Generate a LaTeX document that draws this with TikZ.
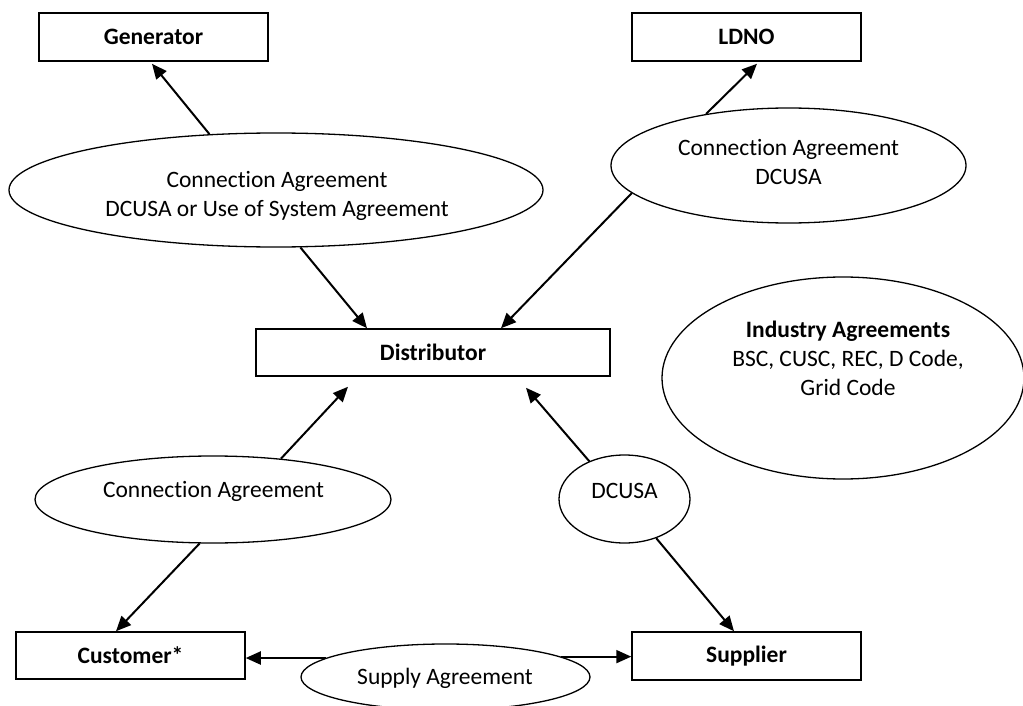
\documentclass[tikz,border=0pt]{standalone}
\usepackage{fontspec}
\setmainfont{Carlito}[Ligatures={NoCommon}]
\usetikzlibrary{arrows.meta,shapes.geometric,calc}
\begin{document}
\begin{tikzpicture}[x=1pt,y=-1pt,
  box/.style={draw,line width=1.5pt,minimum width=229pt,minimum height=48pt,inner sep=0pt,
    font=\fontsize{23.5}{29}\selectfont\bfseries},
  oval/.style={draw,ellipse,line width=1.3pt,inner sep=0pt},
  txt/.style={font=\fontsize{23.5}{29}\selectfont,align=center,inner sep=0pt},
  arr/.style={line width=2pt,-{Triangle[length=15pt,width=13pt]}}]
\useasboundingbox (0,0) rectangle (1023,706);
% boxes
\node[box] (gen) at (153.5,37) {Generator};
\node[box] (ldno) at (746.5,37) {LDNO};
\node[box,minimum width=354pt,minimum height=47pt] (dist) at (433,352.5) {Distributor};
\node[box,minimum height=47pt] (cust) at (130.5,655.5) {Customer*};
\node[box] (sup) at (746.5,656) {Supplier};
% ellipses
\node[oval,minimum width=534pt,minimum height=114pt] (e1) at (276,190) {};
\node[txt] (t1) at (277,196) {Connection Agreement\\DCUSA or Use of System Agreement};
\node[oval,minimum width=355pt,minimum height=115pt] (e2) at (788.5,165.5) {};
\node[txt] (t2) at (788.5,162) {Connection Agreement\\DCUSA};
\node[oval,minimum width=356pt,minimum height=87pt] (e3) at (213,499.5) {};
\node[txt] (t3) at (213.5,491) {Connection Agreement};
\node[oval,minimum width=131pt,minimum height=88pt] (e5) at (624.5,499) {};
\node[txt] (t5) at (624.5,491) {DCUSA};
\node[oval,minimum width=362pt,minimum height=202pt] (e4) at (843,378) {};
\node[txt] (t4) at (848,358) {\textbf{Industry Agreements}\\BSC, CUSC, REC, D Code,\\Grid Code};
\node[oval,minimum width=289pt,minimum height=66pt] (e6) at (445.5,677) {};
\node[txt] (t6) at (445,678) {Supply Agreement};
% connectors
\draw[arr] (e1.140) -- ($(gen.south)+(-1.5,2)$);
\draw[arr] (e1.-67) -- ($(dist.north)+(-66,0)$);
\draw[arr] (e2.148) -- ($(ldno.south)+(10.5,2)$);
\draw[arr] (e2.-170) -- ($(dist.north)+(68,0)$);
\draw[arr] (e3.31) -- ($(dist.south)+(-85,10)$);
\draw[arr] (e3.-107) -- ($(cust.north)+(-14.5,0)$);
\draw[arr] (e5.133) -- ($(dist.south)+(93,11)$);
\draw[arr] (e5.-51) -- ($(sup.north)+(-12.5,0)$);
\draw[arr] (e6.171) -- (e6.171 -| cust.east);
\draw[arr] (e6.10) -- (e6.10 -| sup.west);
\end{tikzpicture}
\end{document}
